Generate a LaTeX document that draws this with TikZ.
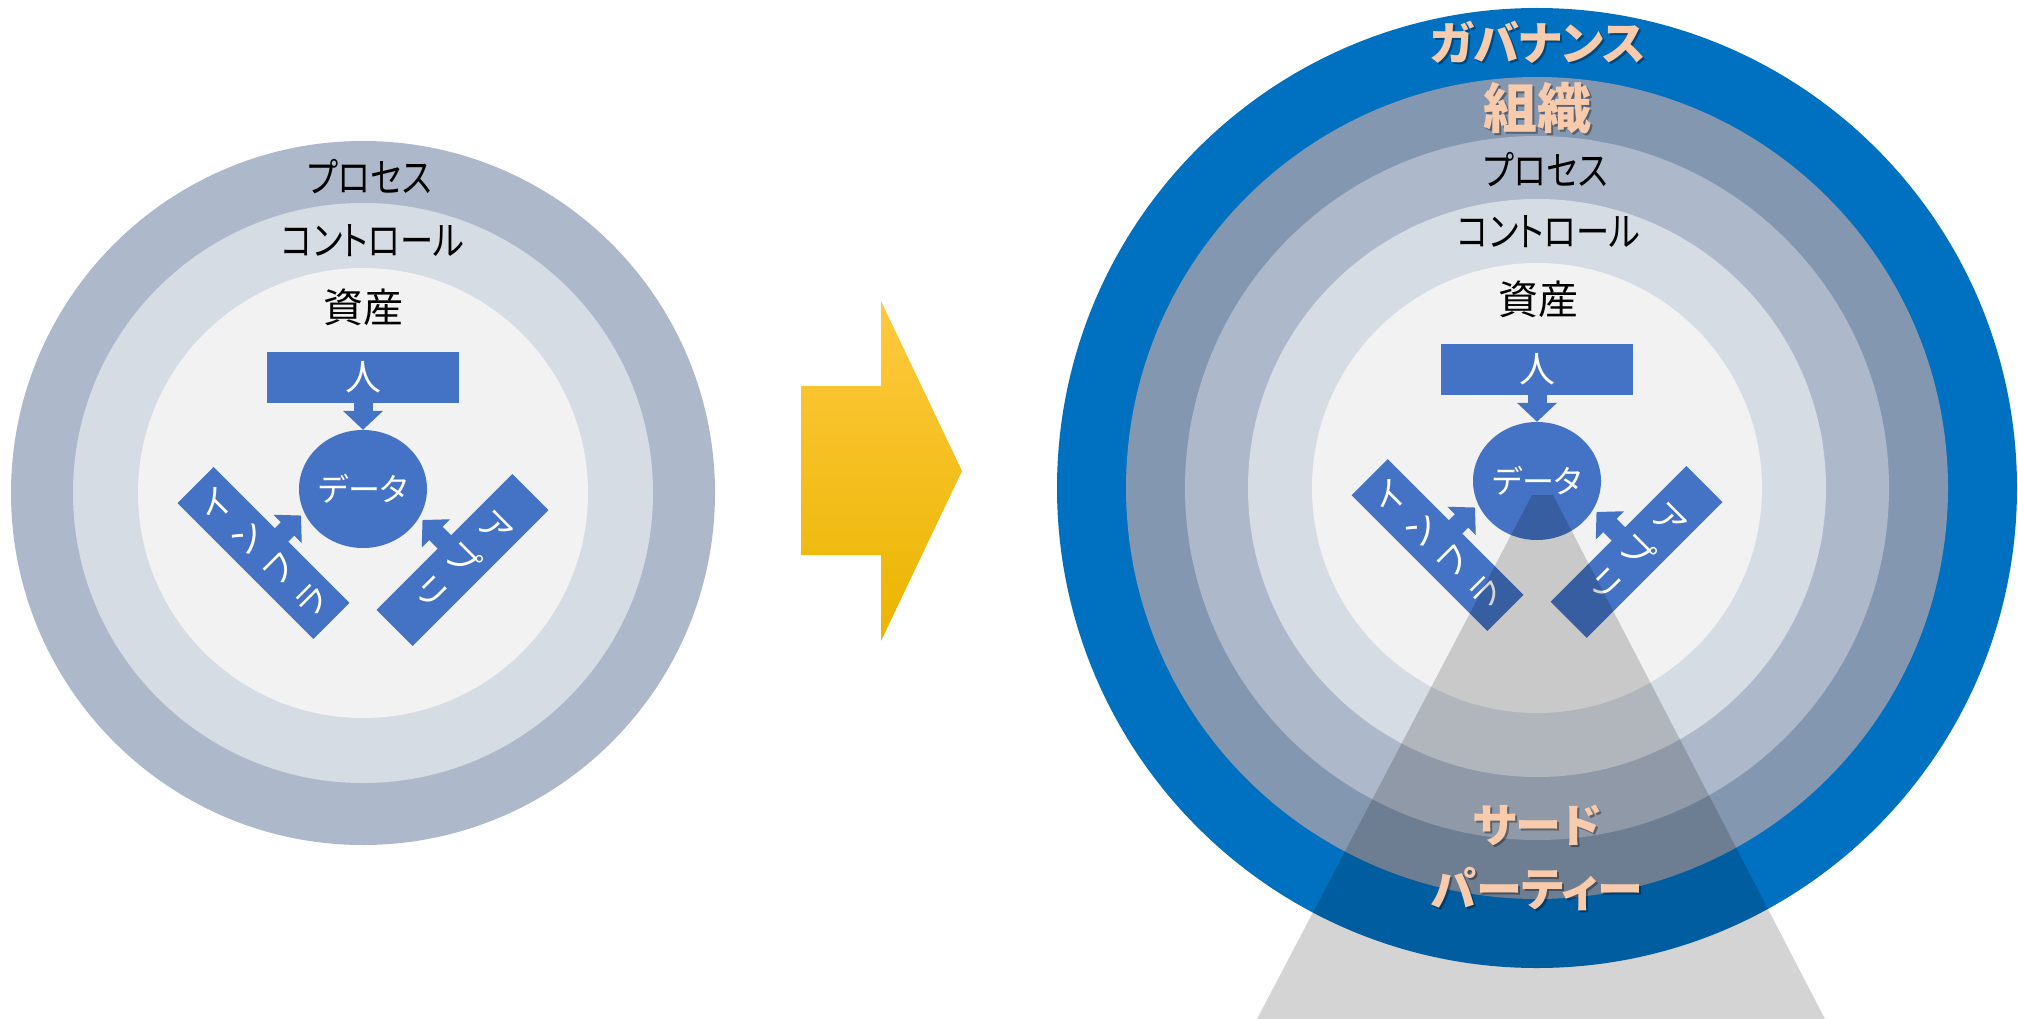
\documentclass[tikz,border=0pt]{standalone}
\usepackage{fontspec}
\usepackage{xcolor}
\newfontfamily\jpfont{Noto Sans CJK JP}[RawFeature=+palt]
\newfontfamily\jpnarrow{Noto Sans CJK JP}[RawFeature=+palt, FakeStretch=0.83]
\usetikzlibrary{arrows.meta,calc,positioning,shapes.geometric}
\definecolor{govblue}{HTML}{0070C0}
\definecolor{orgslate}{HTML}{8497B0}
\definecolor{procgray}{HTML}{ADB9CA}
\definecolor{ctrlpale}{HTML}{D6DCE4}
\definecolor{assetcore}{HTML}{F2F2F2}
\definecolor{itemblue}{HTML}{4472C4}
\definecolor{peach}{HTML}{F8CBAD}
\definecolor{goldtop}{HTML}{FFC93F}
\definecolor{goldmid}{HTML}{FFC000}
\definecolor{goldbot}{HTML}{EAB500}
\newcommand\shd[1]{\makebox[0pt][l]{\kern2pt\raisebox{-2pt}{\pgfsetfillopacity{0.35}\color{black}#1\pgfsetfillopacity{1}}}#1}
\tikzset{lab/.style={font=\jpfont\fontsize{40}{48}\selectfont, text=black, inner sep=0pt}, kana/.style={lab, font=\jpnarrow\fontsize{40}{48}\selectfont}, hl/.style={font=\jpfont\bfseries\fontsize{46}{64}\selectfont, text=peach, inner sep=0pt, align=center}, box/.style={fill=itemblue, text=white, inner sep=0pt, minimum width=192pt, minimum height=51pt, font=\jpfont\fontsize{36}{45}\selectfont}, vbox/.style={box, minimum width=51pt, minimum height=192pt, align=center, font=\jpfont\fontsize{34}{45}\selectfont}, core/.style={ellipse, fill=itemblue, text=white, inner sep=0pt, minimum width=128pt, minimum height=118pt, font=\jpfont\fontsize{32}{40}\selectfont}, blockarrow/.style={draw=itemblue, line width=19pt, -{Triangle[length=19pt, width=39pt]}}}
\begin{document}
\begin{tikzpicture}[x=1pt,y=-1pt]
\useasboundingbox (0,0) rectangle (2018,1019);
% before
\coordinate (c1) at (363,493);
\fill[procgray] (c1) circle[radius=352pt]; \fill[ctrlpale] (c1) circle[radius=290pt]; \fill[assetcore] (c1) circle[radius=225pt];
\node[kana] (proc1) at ([shift={(7,-316)}]c1) {プロセス};
\node[kana] (ctrl1) at ([shift={(10,-252)}]c1) {コントロール};
\node[lab] (asset1) at ([shift={(0,-186)}]c1) {資産};
\node[core] (data1) at ([shift={(0,-4)}]c1) {データ};
\node[box, above=27pt of data1] (person1) {人};
\coordinate (infrapos1) at ([shift={(-99.5,64)}]data1.center); \coordinate (infratip1) at ([shift={(37.5,-37.5)}]infrapos1);
\coordinate (apppos1) at ([shift={(99.5,71)}]data1.center); \coordinate (apptip1) at ([shift={(-40,-40)}]apppos1);
\draw[blockarrow] (infrapos1) -- (infratip1); \draw[blockarrow] (apppos1) -- (apptip1);
\node[vbox, rotate=45] (infra1) at (infrapos1) {イ\\ン\\フ\\ラ};
\node[vbox, rotate=-45] (app1) at (apppos1) {ア\\プ\\リ};
\draw[blockarrow] (person1) -- (data1);
% arrow
\shade[top color=goldtop, middle color=goldmid, bottom color=goldbot] (801,386) -- (881,386) -- (881,301) -- (962,471) -- (881,641) -- (881,555) -- (801,555) -- cycle;
% after
\coordinate (c2) at (1537,488);
\fill[govblue] (c2) circle[radius=480pt]; \fill[orgslate] (c2) circle[radius=411pt]; \fill[procgray] (c2) circle[radius=352pt]; \fill[ctrlpale] (c2) circle[radius=289pt]; \fill[assetcore] (c2) circle[radius=225pt];
\node[hl] (gov2) at ([shift={(1,-445)}]c2) {\shd{ガバナンス}};
\node[hl, font=\jpfont\bfseries\fontsize{54}{64}\selectfont] (org2) at ([shift={(0,-379)}]c2) {\shd{組織}};
\node[kana] (proc2) at ([shift={(9,-318)}]c2) {プロセス};
\node[kana] (ctrl2) at ([shift={(12,-256)}]c2) {コントロール};
\node[lab] (asset2) at ([shift={(1,-189)}]c2) {資産};
\node[core] (data2) at ([shift={(0,-7)}]c2) {データ};
\node[box, above=27pt of data2] (person2) {人};
\coordinate (infrapos2) at ([shift={(-99.5,64)}]data2.center); \coordinate (infratip2) at ([shift={(37.5,-37.5)}]infrapos2);
\coordinate (apppos2) at ([shift={(99.5,71)}]data2.center); \coordinate (apptip2) at ([shift={(-40,-40)}]apppos2);
\draw[blockarrow] (infrapos2) -- (infratip2); \draw[blockarrow] (apppos2) -- (apptip2);
\node[vbox, rotate=45] (infra2) at (infrapos2) {イ\\ン\\フ\\ラ};
\node[vbox, rotate=-45] (app2) at (apppos2) {ア\\プ\\リ};
\draw[blockarrow] (person2) -- (data2);
\fill[black, opacity=0.17] (1532,495) -- (1553,495) -- (1825,1019) -- (1257,1019) -- cycle;
\node[hl] (third2) at ([shift={(0,371)}]c2) {\shd{サード}\\\shd{パーティー}};
\end{tikzpicture}
\end{document}
